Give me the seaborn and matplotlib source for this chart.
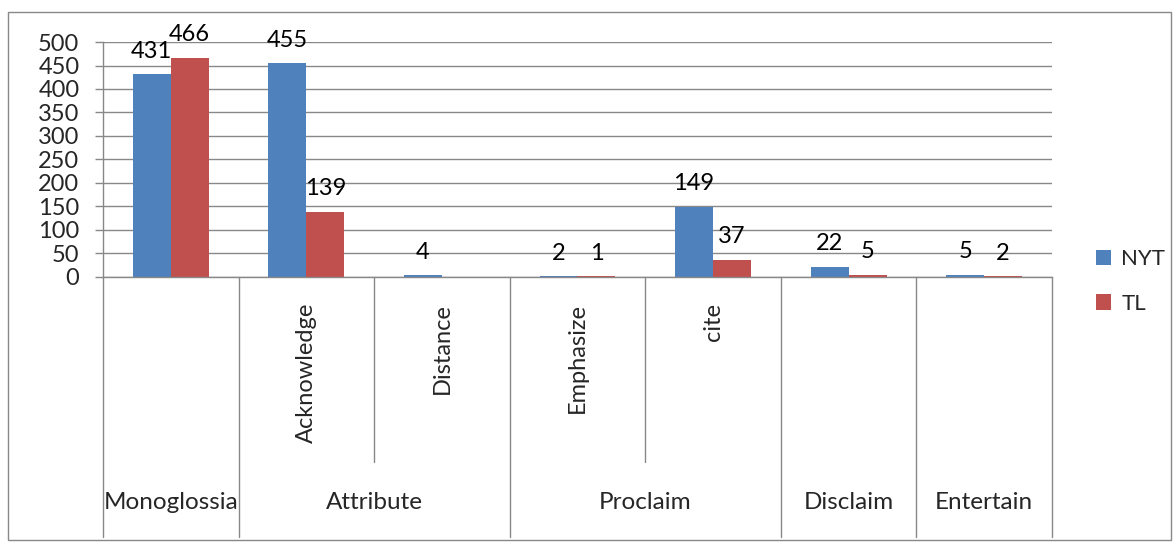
import numpy as np
import pandas as pd
import seaborn as sns
from matplotlib import pyplot as plt
from matplotlib.patches import Patch, Rectangle

# chart data
subcats = ["Monoglossia", "Acknowledge", "Distance", "Emphasize", "cite", "Disclaim", "Entertain"]
rotated_labels = ["", "Acknowledge", "Distance", "Emphasize", "cite", "", ""]
groups = ["Monoglossia", "Attribute", "Proclaim", "Disclaim", "Entertain"]
group_spans = [(0, 0), (1, 2), (3, 4), (5, 5), (6, 6)]
nyt = [431, 455, 4, 2, 149, 22, 5]
tl = [466, 139, np.nan, 1, 37, 5, 2]
series = ["NYT", "TL"]
colors = ["#4F81BD", "#C0504D"]
y_ticks = list(range(0, 501, 50))

df = pd.DataFrame({
    "sub": subcats * 2,
    "count": nyt + tl,
    "source": ["NYT"] * len(subcats) + ["TL"] * len(subcats),
})

sns.set_style("white")
plt.rcParams["font.family"] = ["Lato", "DejaVu Sans"]
grid_c = "#888888"

fig, ax = plt.subplots(figsize=(11.73, 5.42), dpi=100)
fig.subplots_adjust(left=0.0878, right=0.8968, bottom=0.489, top=0.9225)

sns.barplot(
    ax=ax,
    data=df,
    x="sub",
    y="count",
    hue="source",
    order=subcats,
    hue_order=series,
    palette=colors,
    width=0.56,
    linewidth=0,
    saturation=1,
    legend=False,
)

for cont in ax.containers:
    ax.bar_label(cont, fmt=lambda v: "" if np.isnan(v) else f"{v:.0f}",
                 padding=9, fontsize=17, color="black")

ax.set_xlim(-0.5, 6.5)
ax.set_ylim(0, 500)
ax.set_yticks(y_ticks)
ax.set_xticks([])
ax.set_xlabel("")
ax.set_ylabel("")
ax.yaxis.grid(True, color=grid_c, lw=1)
ax.set_axisbelow(True)
ax.tick_params(axis="y", direction="out", length=6, width=1, color=grid_c,
               labelsize=17, pad=11, left=True)
for side in ["top", "right"]:
    ax.spines[side].set_visible(False)
for side in ["left", "bottom"]:
    ax.spines[side].set_color(grid_c)
    ax.spines[side].set_linewidth(1)

# multi-level category axis below the plot
trans = ax.get_xaxis_transform()
outer = [-0.5, 0.5, 2.5, 4.5, 5.5, 6.5]
inner = [1.5, 3.5]
for x in outer:
    ax.plot([x, x], [0, -1.106], transform=trans, color=grid_c, lw=1, clip_on=False)
for x in inner:
    ax.plot([x, x], [0, -0.787], transform=trans, color=grid_c, lw=1, clip_on=False)
for i, lab in enumerate(rotated_labels):
    if lab:
        ax.text(i, -0.11, lab, transform=trans, rotation=90, ha="center", va="top",
                fontsize=17)
for g, (a, b) in zip(groups, group_spans):
    ax.text((a + b) / 2, -0.962, g, transform=trans, ha="center", va="center",
            fontsize=17.5)

# legend
handles = [Patch(facecolor=c, edgecolor="none") for c in colors]
fig.legend(handles, series, loc="center left", bbox_to_anchor=(0.917, 0.481),
           frameon=False, fontsize=16, handlelength=0.7, handleheight=0.7,
           handletextpad=0.45, labelspacing=1.1)

# outer chart border
fig.patches.append(Rectangle((8 / 1173, 2 / 542), 1163 / 1173, 528 / 542,
                             transform=fig.transFigure, fill=False,
                             edgecolor=grid_c, lw=1))

plt.savefig("out.png", dpi=100)
